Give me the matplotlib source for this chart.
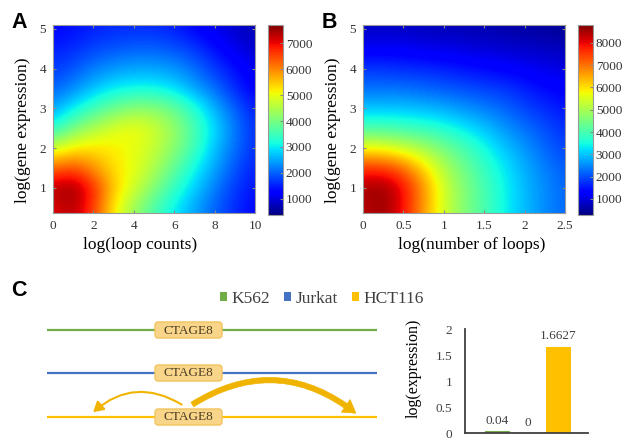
import numpy as np
import matplotlib.pyplot as plt
from matplotlib.patches import FancyBboxPatch, FancyArrowPatch, Patch

plt.rcParams['font.family'] = 'Liberation Serif'
plt.rcParams['text.color'] = '#222222'

# panel A: density of log(gene expression) vs log(loop counts), read on a coarse grid
A_X = [0, 1, 2, 3, 4, 5, 6, 7, 8, 9, 10]
A_Y = [0.5, 1.0, 1.5, 2.0, 2.5, 3.0, 3.5, 4.0, 4.5, 5.0]
A_VALUES = [
    [7000, 7400, 6600, 5200, 4300, 3600, 3000, 2500, 2000, 1600, 1300],
    [7400, 7600, 6800, 5500, 4800, 4100, 3400, 2800, 2200, 1700, 1400],
    [6200, 6500, 5900, 5300, 5000, 4500, 3800, 3100, 2500, 1900, 1500],
    [4800, 5200, 5300, 5200, 5000, 4700, 4200, 3500, 2700, 2100, 1600],
    [3200, 4000, 4500, 4900, 5100, 4800, 4300, 3600, 2900, 2200, 1600],
    [2500, 3000, 3500, 3900, 4200, 4200, 3900, 3300, 2600, 2000, 1500],
    [2000, 2300, 2700, 3000, 3100, 3100, 2900, 2500, 2100, 1600, 1200],
    [1700, 1900, 2200, 2400, 2500, 2500, 2400, 2100, 1700, 1400, 1100],
    [1500, 1600, 1800, 1900, 2000, 2000, 1900, 1700, 1400, 1100, 900],
    [1300, 1400, 1500, 1600, 1600, 1600, 1500, 1300, 1100, 900, 700],
]
A_RANGE = (380, 7700)

# panel B: density of log(gene expression) vs log(number of loops)
B_X = [0, 0.25, 0.5, 0.75, 1.0, 1.25, 1.5, 1.75, 2.0, 2.25, 2.5]
B_Y = A_Y
B_VALUES = [
    [8300, 8600, 7900, 6600, 5400, 4600, 4000, 3400, 2900, 2500, 2200],
    [8500, 8700, 8000, 6700, 5400, 4600, 4000, 3400, 2900, 2500, 2200],
    [7600, 7600, 7100, 6100, 5100, 4400, 3800, 3300, 2800, 2400, 2100],
    [5800, 5700, 5400, 5000, 4500, 4000, 3500, 3000, 2600, 2200, 1900],
    [4000, 4000, 3900, 3800, 3600, 3300, 3000, 2600, 2300, 2000, 1700],
    [3000, 3000, 3000, 2900, 2800, 2600, 2400, 2200, 1900, 1700, 1500],
    [2300, 2300, 2300, 2200, 2100, 2000, 1900, 1800, 1600, 1400, 1300],
    [1800, 1800, 1700, 1700, 1600, 1500, 1400, 1300, 1200, 1100, 1000],
    [1200, 1200, 1200, 1100, 1100, 1000, 950, 900, 850, 800, 750],
    [800, 800, 800, 750, 700, 700, 650, 600, 550, 500, 450],
]
B_RANGE = (280, 8800)

# panel C: expression of CTAGE8 per cell line
CELL_LINES = ['K562', 'Jurkat', 'HCT116']
CELL_COLORS = ['#70AD47', '#4472C4', '#FFC000']
EXPRESSION = [0.04, 0, 1.6627]
EXPR_LABELS = ['0.04', '0', '1.6627']
GENE = 'CTAGE8'

W, H = 624, 440
fig = plt.figure(figsize=(W / 100, H / 100), dpi=100)


def px_rect(x0, y0, x1, y1):
    return [x0 / W, 1 - y1 / H, (x1 - x0) / W, (y1 - y0) / H]


def heatmap(rect, crect, xs, ys, vals, vrange, xticks, xlabels, xlabel, xlab_x, cticks):
    ax = fig.add_axes(px_rect(*rect))
    dx = xs[1] - xs[0]
    dy = ys[1] - ys[0]
    im = ax.imshow(np.array(vals), origin='lower', cmap='jet', interpolation='bicubic',
                   aspect='auto', vmin=vrange[0], vmax=vrange[1],
                   extent=[xs[0] - dx / 2, xs[-1] + dx / 2, ys[0] - dy / 2, ys[-1] + dy / 2])
    ax.set_xlim(xs[0], xs[-1])
    ax.set_ylim(0.37, 5.1)
    ax.set_xticks(xticks, xlabels)
    ax.set_yticks([1, 2, 3, 4, 5])
    ax.tick_params(direction='in', top=True, right=True, length=2.5, color='#888888',
                   labelsize=9.5, labelcolor='#333333', pad=5)
    for s in ax.spines.values():
        s.set_color('#999999')
        s.set_linewidth(0.8)
    ax.set_xlabel(xlabel, fontsize=12.5)
    ax.xaxis.set_label_coords(xlab_x, -0.125)
    ax.set_ylabel('log(gene expression)', fontsize=12.5)
    ax.yaxis.set_label_coords(-0.11, 0.44)
    cax = fig.add_axes(px_rect(*crect))
    cb = fig.colorbar(im, cax=cax, ticks=cticks)
    cb.outline.set_edgecolor('#999999')
    cb.outline.set_linewidth(0.8)
    cax.tick_params(direction='in', length=2.5, color='#888888', labelsize=9.5,
                    labelcolor='#333333', pad=2)
    return ax


heatmap((53, 25, 255, 213), (268, 25, 283, 215), A_X, A_Y, A_VALUES, A_RANGE,
        [0, 2, 4, 6, 8, 10], ['0', '2', '4', '6', '8', '10'], 'log(loop counts)', 0.43,
        [1000, 2000, 3000, 4000, 5000, 6000, 7000])
heatmap((363, 25, 565, 213), (578, 25, 593, 215), B_X, B_Y, B_VALUES, B_RANGE,
        [0, 0.5, 1, 1.5, 2, 2.5], ['0', '0.5', '1', '1.5', '2', '2.5'], 'log(number of loops)', 0.54,
        [1000, 2000, 3000, 4000, 5000, 6000, 7000, 8000])

# schematic of loops around the gene (pixel coordinates)
ax_c = fig.add_axes([0, 0, 1, 1])
ax_c.set_xlim(0, W)
ax_c.set_ylim(H, 0)
ax_c.axis('off')
track_y = [330, 373, 417]
for y, c in zip(track_y, CELL_COLORS):
    ax_c.plot([47, 377], [y, y], color=c, lw=1.6, solid_capstyle='butt', zorder=1)
    box = FancyBboxPatch((155, y - 8), 67, 16, boxstyle='round,pad=0,rounding_size=3',
                         facecolor='#F9D58A', edgecolor='#F2C45E', lw=1, zorder=2)
    ax_c.add_patch(box)
    ax_c.text(188.5, y + 0.5, GENE, ha='center', va='center', fontsize=9.5, color='#4a3c22', zorder=3)

arrow_col = '#F0B400'
ax_c.add_patch(FancyArrowPatch((184, 406), (91, 414), connectionstyle='arc3,rad=0.38',
                               arrowstyle='-|>,head_length=0.6,head_width=0.35', mutation_scale=10,
                               color=arrow_col, lw=1.5, zorder=4))
ax_c.add_patch(FancyArrowPatch((190, 406), (358, 415), connectionstyle='arc3,rad=-0.36',
                               arrowstyle='simple,head_length=0.9,head_width=1.1,tail_width=0.38',
                               mutation_scale=10, color=arrow_col, lw=0.5, zorder=4))

handles = [Patch(facecolor=c, edgecolor='none') for c in CELL_COLORS]
leg = fig.legend(handles, CELL_LINES, loc='center', bbox_to_anchor=(322 / W, 1 - 299 / H), ncol=3,
                 frameon=False, fontsize=12.5, handlelength=0.4, handleheight=0.4,
                 handletextpad=0.25, columnspacing=0.8)
for t in leg.get_texts():
    t.set_color('#404040')

# bar chart of expression
ax_bar = fig.add_axes(px_rect(465, 329, 588, 433))
pos = np.arange(len(CELL_LINES))
ax_bar.bar(pos, EXPRESSION, width=0.82, color=CELL_COLORS)
for p, v, lab in zip(pos, EXPRESSION, EXPR_LABELS):
    ax_bar.annotate(lab, (p, v), xytext=(0, 3), textcoords='offset points',
                    ha='center', va='bottom', fontsize=9.5, color='#404040')
ax_bar.set_xlim(-1.05, 2.98)
ax_bar.set_ylim(0, 2)
ax_bar.set_xticks([])
ax_bar.set_yticks([0, 0.5, 1, 1.5, 2], ['0', '0.5', '1', '1.5', '2'])
ax_bar.tick_params(axis='y', length=0, labelsize=9.5, labelcolor='#404040', pad=9)
for s in ['top', 'right']:
    ax_bar.spines[s].set_visible(False)
for s in ['left', 'bottom']:
    ax_bar.spines[s].set_color('#404040')
    ax_bar.spines[s].set_linewidth(1.3)
ax_bar.set_ylabel('log(expression)', fontsize=11.5)
ax_bar.yaxis.set_label_coords(-0.35, 0.62)

# panel letters
for lab, x, y in [('A', 11, 12), ('B', 322, 12), ('C', 11, 280)]:
    fig.text(x / W, 1 - y / H, lab, fontsize=15.5, fontweight='bold', family='Liberation Sans',
             color='black', va='top', ha='left')

fig.savefig('out.png', dpi=100)
